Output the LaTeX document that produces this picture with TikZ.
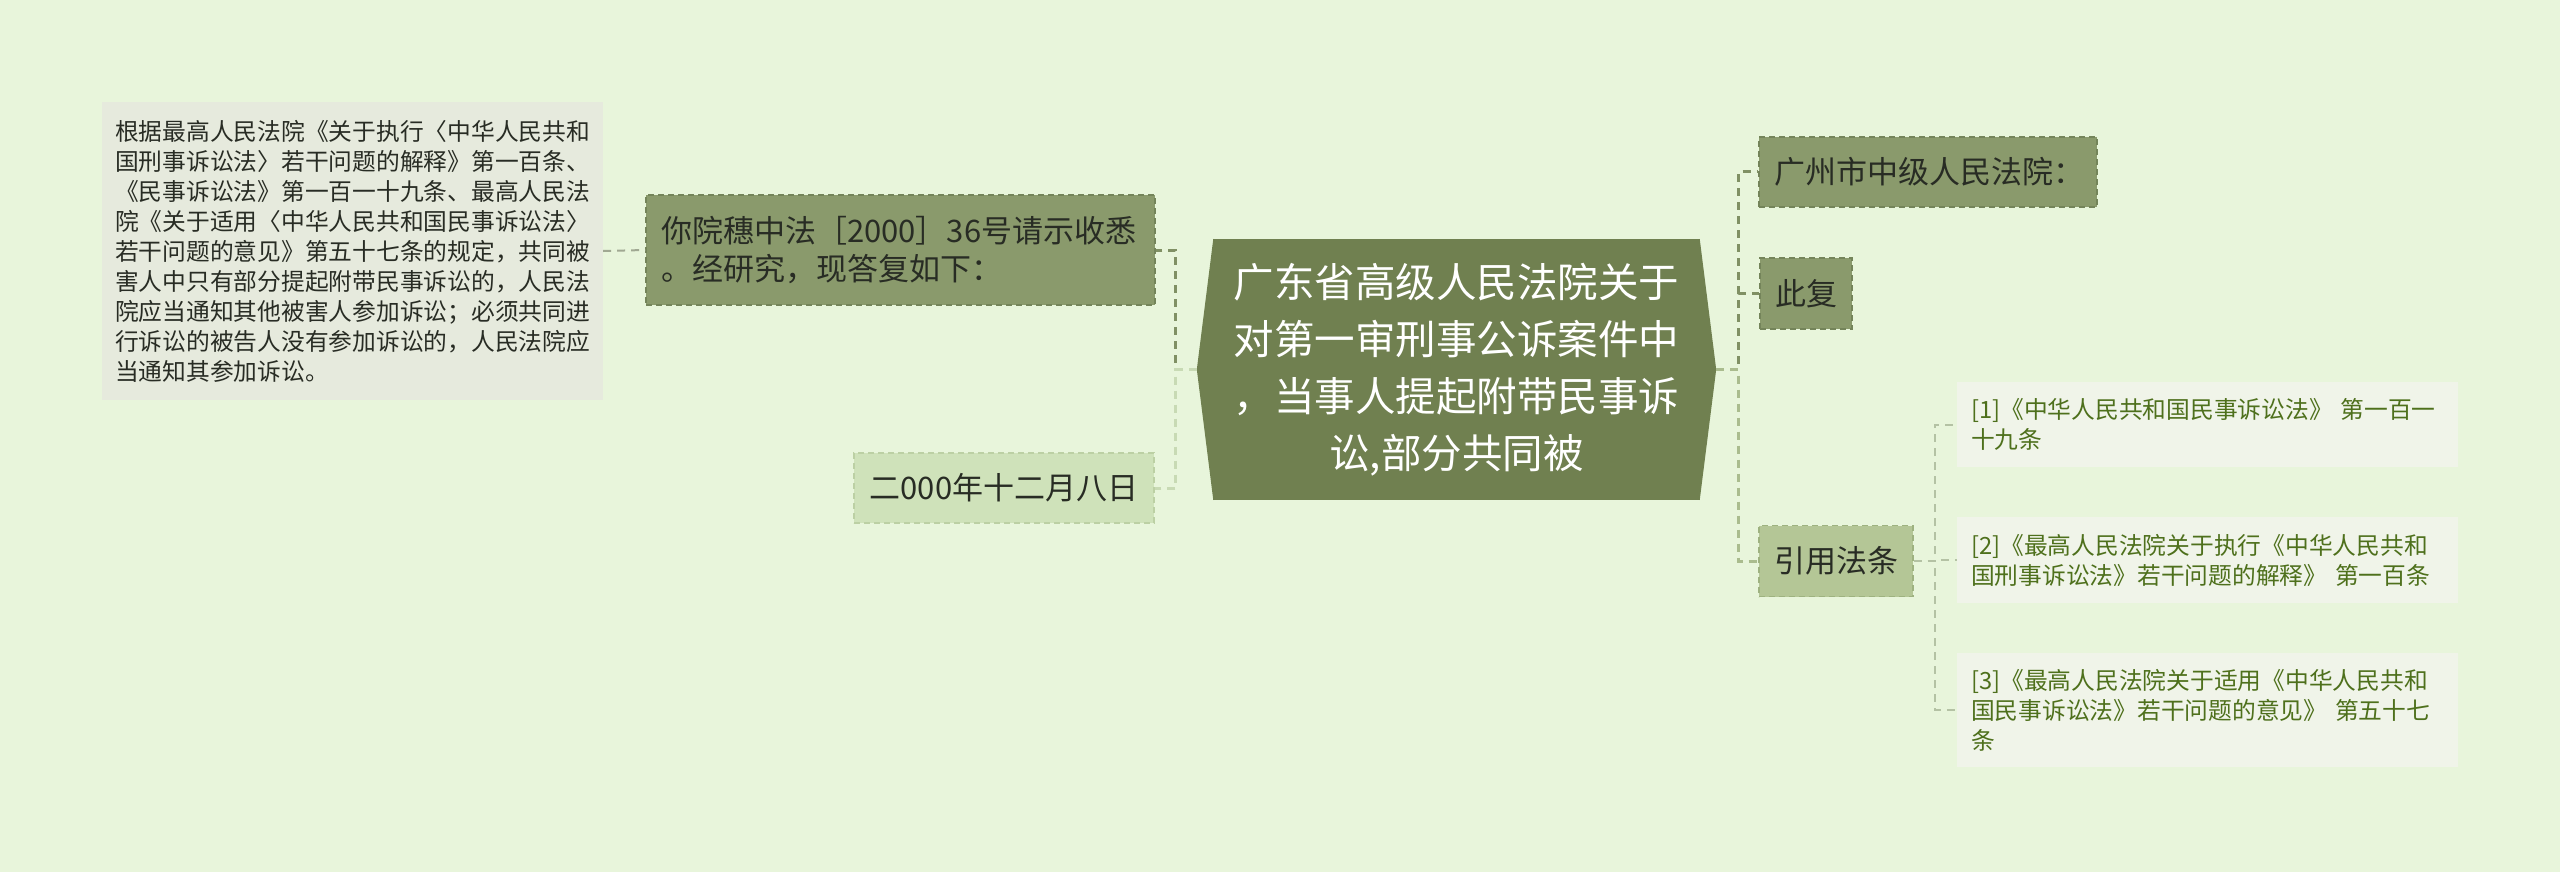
\documentclass[tikz,border=0pt]{standalone}
\usepackage{fontspec}
\setmainfont{Noto Sans CJK SC}
\usetikzlibrary{calc}
\definecolor{bg}{RGB}{232,245,219}
\definecolor{olive}{RGB}{138,154,108}
\definecolor{olivedraw}{RGB}{116,132,90}
\definecolor{central}{RGB}{112,128,80}
\definecolor{lightg}{RGB}{207,226,186}
\definecolor{lightgdraw}{RGB}{188,208,164}
\definecolor{midg}{RGB}{180,198,150}
\definecolor{midgdraw}{RGB}{158,178,128}
\definecolor{grayb}{RGB}{230,234,221}
\definecolor{refb}{RGB}{240,244,233}
\definecolor{reftext}{RGB}{78,112,28}
\definecolor{txt}{RGB}{40,44,36}
\definecolor{conndark}{RGB}{128,144,100}
\definecolor{connlight}{RGB}{200,218,180}
\definecolor{connmid}{RGB}{170,188,142}
\definecolor{connref}{RGB}{180,194,164}
\definecolor{connleft}{RGB}{160,168,146}
\begin{document}
\begin{tikzpicture}[x=1pt,y=-1pt,
  basebox/.style={inner ysep=0pt, text=txt, font=\fontsize{31}{38}\selectfont, align=left},
  darkbox/.style={basebox, fill=olive, draw=olivedraw, dash pattern=on 6pt off 4pt, line width=1.5pt},
  lightbox/.style={basebox, fill=lightg, draw=lightgdraw, dash pattern=on 6pt off 4pt, line width=1.5pt},
  midbox/.style={basebox, fill=midg, draw=midgdraw, dash pattern=on 6pt off 4pt, line width=1.5pt},
  notebox/.style={fill=grayb, text=txt, inner ysep=0pt, inner xsep=13pt, text width=475pt, minimum height=298pt, align=left, font=\fontsize{23.75}{30}\selectfont},
  refbox/.style={fill=refb, text=reftext, inner ysep=0pt, inner xsep=14pt, text width=473pt, align=left, font=\fontsize{23.75}{30}\selectfont},
  dconn/.style={draw=conndark, line width=3pt, dash pattern=on 8pt off 6pt},
  lconn/.style={draw=connlight, line width=3pt, dash pattern=on 8pt off 6pt},
  mconn/.style={draw=connmid, line width=3pt, dash pattern=on 8pt off 6pt},
  rconn/.style={draw=connref, line width=2pt, dash pattern=on 8pt off 6pt},
  nconn/.style={draw=connleft, line width=2pt, dash pattern=on 8pt off 6pt}
]
\fill[bg] (0,0) rectangle (2560,872);
\useasboundingbox (0,0) rectangle (2560,872);

% central
\node[fill=central, text=white, inner sep=0pt, minimum width=487pt, minimum height=261pt, text width=467pt, align=center, font=\fontsize{40.5}{57}\selectfont] (c) at (1456.5,369.5)
  {广东省高级人民法院关于\\对第一审刑事公诉案件中\\，当事人提起附带民事诉\\讼,部分共同被};
\coordinate (cL) at ($(c.west)+(-16,0)$);
\coordinate (cR) at ($(c.east)+(16,0)$);
\fill[central] ($(c.north west)+(0.5,0)$) -- (cL) -- ($(c.south west)+(0.5,0)$) -- cycle;
\fill[central] ($(c.north east)+(-0.5,0)$) -- (cR) -- ($(c.south east)+(-0.5,0)$) -- cycle;

% left side
\node[darkbox, inner xsep=15pt, text width=479pt, minimum height=110pt] (reply) at (900.5,250)
  {你院穗中法［2000］36号请示收悉\\。经研究，现答复如下：};
\node[lightbox, inner xsep=15pt, text width=270pt, minimum height=70pt, align=center] (date) at (1004,488)
  {二000年十二月八日};
\node[notebox] (note) at (352.5,251)
  {根据最高人民法院《关于执行〈中华人民共和\\国刑事诉讼法〉若干问题的解释》第一百条、\\《民事诉讼法》第一百一十九条、最高人民法\\院《关于适用〈中华人民共和国民事诉讼法〉\\若干问题的意见》第五十七条的规定，共同被\\害人中只有部分提起附带民事诉讼的，人民法\\院应当通知其他被害人参加诉讼；必须共同进\\行诉讼的被告人没有参加诉讼的，人民法院应\\当通知其参加诉讼。};

% right side
\node[darkbox, inner xsep=15pt, text width=308pt, minimum height=70pt] (gz) at (1928,172)
  {广州市中级人民法院：};
\node[darkbox, inner xsep=15pt, text width=62pt, minimum height=71pt, align=center] (cf) at (1806,293.5)
  {此复};
\node[midbox, inner xsep=15pt, text width=124pt, minimum height=71pt, align=center] (yy) at (1836,561)
  {引用法条};
\node[refbox, minimum height=85pt] (r1) at (2207.5,424.5)
  {[1]《中华人民共和国民事诉讼法》 第一百一\\十九条};
\node[refbox, minimum height=86pt] (r2) at (2207.5,560)
  {[2]《最高人民法院关于执行《中华人民共和\\国刑事诉讼法》若干问题的解释》 第一百条};
\node[refbox, minimum height=114pt] (r3) at (2207.5,710)
  {[3]《最高人民法院关于适用《中华人民共和\\国民事诉讼法》若干问题的意见》 第五十七\\条};

% connectors
\draw[nconn] (note.east) -- (reply.west);
\draw[dconn] (cL) -- ++(-21,0) |- (reply.east);
\draw[lconn] (cL) -- ++(-21,0) |- (date.east);
\draw[dconn] (cR) -- ++(22,0) |- (gz.west);
\draw[dconn] (cR) -- ++(22,0) |- (cf.west);
\draw[mconn] (cR) -- ++(22,0) |- (yy.west);
\draw[rconn] (yy.east) -- ++(21,0) |- (r1.west);
\draw[rconn] (yy.east) -- ++(21,0) |- (r2.west);
\draw[rconn] (yy.east) -- ++(21,0) |- (r3.west);
\end{tikzpicture}
\end{document}
